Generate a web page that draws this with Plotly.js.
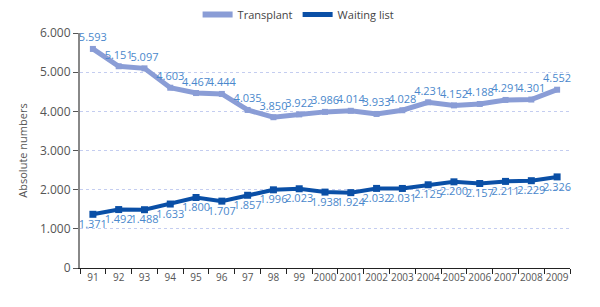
<!DOCTYPE html>
<html>
<head>
<meta charset="utf-8">
<script src="https://cdn.plot.ly/plotly-3.0.1.min.js"></script>
<style>html,body{margin:0;padding:0;background:#fff;}#chart{width:600px;height:307px;}</style>
</head>
<body>
<div id="chart"></div>
<script>
var years = ["91","92","93","94","95","96","97","98","99","2000","2001","2002","2003","2004","2005","2006","2007","2008","2009"];
var transplant = [5593,5151,5097,4603,4467,4444,4035,3850,3922,3986,4014,3933,4028,4231,4152,4188,4291,4301,4552];
var waitingList = [1371,1492,1488,1633,1800,1707,1857,1996,2023,1938,1924,2032,2031,2125,2200,2157,2211,2229,2326];
var yTicks = [0,1000,2000,3000,4000,5000,6000];

var labelFont = {family: "Open Sans, sans-serif", size: 11, color: "#4a88cc"};
var cTrans = "#8a9dd6", cWait = "#0a4fa6";

var traces = [
  {
    x: years, y: transplant, name: "Transplant", type: "scatter", mode: "lines+markers+text",
    line: {color: cTrans, width: 5},
    marker: {color: cTrans, size: 6, symbol: "square"},
    texttemplate: "%{y:,}", textposition: "top center", textfont: labelFont,
    cliponaxis: false, showlegend: false
  },
  {
    x: years, y: waitingList, name: "Waiting list", type: "scatter", mode: "lines+markers+text",
    line: {color: cWait, width: 4},
    marker: {color: cWait, size: 7, symbol: "square"},
    texttemplate: "%{y:,}", textposition: "bottom center", textfont: labelFont,
    cliponaxis: false, showlegend: false
  },
  {x: [null], y: [null], name: "Transplant", type: "scatter", mode: "lines", line: {color: cTrans, width: 6}, showlegend: true},
  {x: [null], y: [null], name: "Waiting list", type: "scatter", mode: "lines", line: {color: cWait, width: 5}, showlegend: true}
];

var layout = {
  width: 600, height: 307,
  margin: {l: 80, r: 30, t: 33, b: 39, autoexpand: false},
  separators: ",.",
  paper_bgcolor: "#fff", plot_bgcolor: "#fff",
  font: {family: "Open Sans, sans-serif", size: 11, color: "#555"},
  showlegend: true,
  legend: {orientation: "h", x: 0.24, xanchor: "left", yref: "container", y: 1.0, yanchor: "top",
           font: {size: 11, color: "#444"}, itemwidth: 30, traceorder: "normal"},
  xaxis: {
    type: "category", showgrid: false, zeroline: false,
    showline: true, linecolor: "#222", linewidth: 1,
    ticks: "outside", ticklen: 5, tickcolor: "#222", tickson: "boundaries",
    tickangle: 0, automargin: false,
    tickfont: {size: 10, color: "#555"}, range: [-0.5, 18.5]
  },
  yaxis: {
    range: [0, 6000], tickvals: yTicks, tickformat: ",d", automargin: false,
    showgrid: true, gridcolor: "#c4cdf0", griddash: "dot", gridwidth: 1,
    zeroline: false, showline: true, linecolor: "#888", linewidth: 2,
    ticks: "outside", ticklen: 5, tickcolor: "#555",
    tickfont: {size: 12, color: "#555"},
    title: {text: "Absolute numbers", font: {size: 11, color: "#555"}, standoff: 10}
  }
};

Plotly.newPlot("chart", traces, layout, {displayModeBar: false, staticPlot: true});
</script>
</body>
</html>
